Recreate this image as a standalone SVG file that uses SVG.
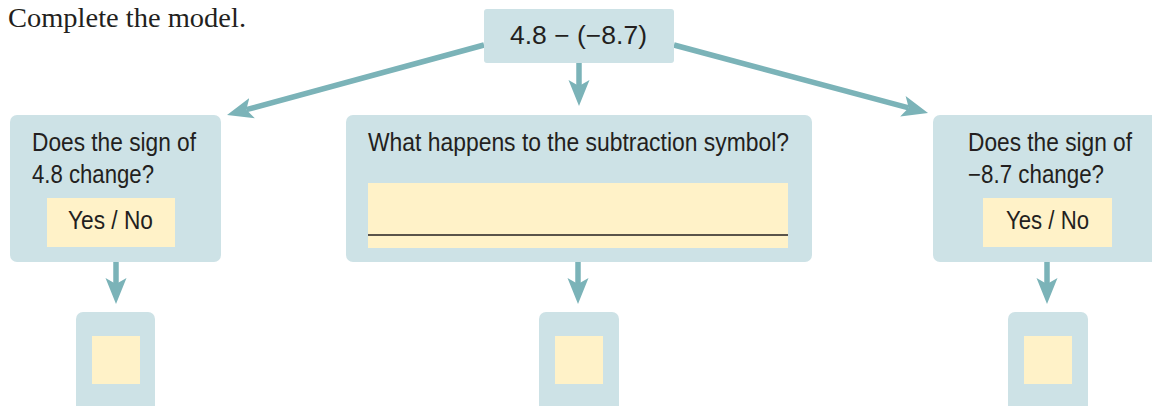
<svg xmlns="http://www.w3.org/2000/svg" width="1152" height="406" viewBox="0 0 1152 406">
<style>
  .box{fill:#cde2e6}
  .ans{fill:#fff2c8}
  .t{font-family:"Liberation Sans",Arial,sans-serif;font-size:25px;fill:#231f20}
  .conn{stroke:#7bb3b8;stroke-width:5.5;fill:none;marker-end:url(#ah)}
</style>
<defs>
  <marker id="ah" markerUnits="userSpaceOnUse" markerWidth="30" markerHeight="24" viewBox="0 -12 30 24" refX="6" refY="0" orient="auto">
    <path d="M0,-10.5 L26,0 L0,10.5 L6,0 Z" fill="#7bb3b8"/>
  </marker>
</defs>
<rect width="1152" height="406" fill="#ffffff"/>
<text x="8" y="27" font-family="'Liberation Serif','Times New Roman',serif" font-size="28" fill="#231f20" textLength="238" lengthAdjust="spacingAndGlyphs">Complete the model.</text>
<g id="connectors">
  <line class="conn" x1="484" y1="45" x2="246.3" y2="109.7"/>
  <line class="conn" x1="579" y1="63" x2="579" y2="86"/>
  <line class="conn" x1="674" y1="45" x2="908.7" y2="107.8"/>
  <line class="conn" x1="116" y1="262" x2="116" y2="284"/>
  <line class="conn" x1="578" y1="262" x2="578" y2="284"/>
  <line class="conn" x1="1047" y1="262" x2="1047" y2="284"/>
</g>
<g id="top">
  <rect class="box" x="484" y="9" width="190" height="54" rx="3"/>
  <text class="t" x="510" y="44" textLength="137" lengthAdjust="spacingAndGlyphs">4.8 − (−8.7)</text>
</g>
<g id="left">
  <rect class="box" x="10" y="115" width="211" height="147" rx="7"/>
  <text class="t" x="32" y="151" textLength="164" lengthAdjust="spacingAndGlyphs">Does the sign of</text>
  <text class="t" x="32" y="183" textLength="122" lengthAdjust="spacingAndGlyphs">4.8 change?</text>
  <rect class="ans" x="47" y="198" width="128" height="49"/>
  <text class="t" x="68" y="229" textLength="85" lengthAdjust="spacingAndGlyphs">Yes / No</text>
</g>
<g id="middle">
  <rect class="box" x="346" y="115" width="466" height="147" rx="7"/>
  <text class="t" x="368" y="151" textLength="421" lengthAdjust="spacingAndGlyphs">What happens to the subtraction symbol?</text>
  <rect class="ans" x="368" y="183" width="420" height="65"/>
  <line x1="368" y1="235" x2="788" y2="235" stroke="#231f20" stroke-width="1.3"/>
</g>
<g id="right">
  <rect class="box" x="933" y="115" width="230" height="147" rx="7"/>
  <text class="t" x="968" y="151" textLength="164" lengthAdjust="spacingAndGlyphs">Does the sign of</text>
  <text class="t" x="968" y="183" textLength="136" lengthAdjust="spacingAndGlyphs">−8.7 change?</text>
  <rect class="ans" x="983" y="198" width="129" height="49"/>
  <text class="t" x="1006" y="229" textLength="83" lengthAdjust="spacingAndGlyphs">Yes / No</text>
</g>
<g id="result-left">
  <rect class="box" x="76" y="312" width="79" height="102" rx="7"/>
  <rect class="ans" x="92" y="336" width="48" height="48"/>
</g>
<g id="result-middle">
  <rect class="box" x="539" y="312" width="80" height="102" rx="7"/>
  <rect class="ans" x="555" y="336" width="48" height="48"/>
</g>
<g id="result-right">
  <rect class="box" x="1008" y="312" width="80" height="102" rx="7"/>
  <rect class="ans" x="1024" y="336" width="48" height="48"/>
</g>
</svg>
